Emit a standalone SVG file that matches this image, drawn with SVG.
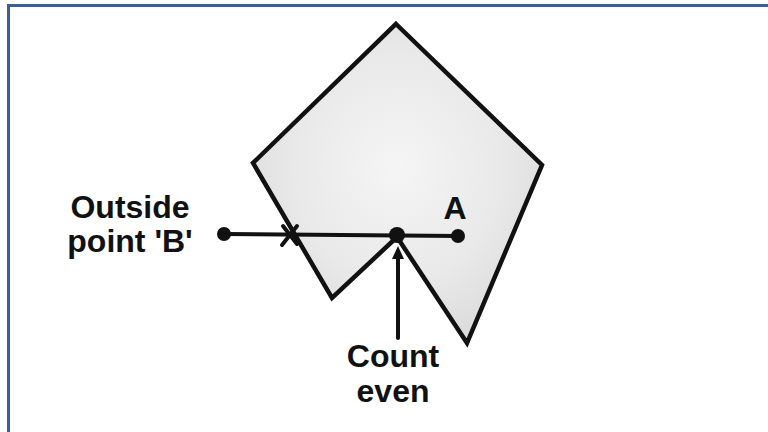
<svg xmlns="http://www.w3.org/2000/svg" width="768" height="432" viewBox="0 0 768 432">
  <defs>
    <radialGradient id="shade" cx="0.5" cy="0.45" r="0.6">
      <stop offset="0" stop-color="#f5f5f5"/>
      <stop offset="0.6" stop-color="#e9e9e9"/>
      <stop offset="1" stop-color="#dadada"/>
    </radialGradient>
  </defs>
  <style>
    .lbl { font-family: "Liberation Sans", Arial, sans-serif; font-weight: bold; font-size: 32px; fill: #111; }
    .edge { stroke: #111; stroke-width: 4; fill: none; stroke-linecap: round; }
    .dot { fill: #111; }
  </style>
  <rect x="0" y="0" width="768" height="432" fill="#ffffff"/>
  <rect x="8.5" y="5.5" width="780" height="450" fill="none" stroke="#3d5c99" stroke-width="3"/>

  <g id="polygon">
    <polygon points="396,24 542,165 467,343 397,237 332,298 253,163" fill="url(#shade)" stroke="#111" stroke-width="4.5" stroke-linejoin="miter"/>
  </g>

  <g id="connectors">
    <line class="edge" x1="224" y1="234" x2="458" y2="236"/>
    <path class="edge" d="M283,226 L297,244 M297,226 L282,245" stroke-width="3"/>
    <line class="edge" x1="398" y1="252" x2="398" y2="338"/>
    <polygon points="392,259 398,246 404,259" fill="#111"/>
  </g>

  <g id="pointB">
    <circle class="dot" cx="224" cy="234" r="7"/>
    <text class="lbl" x="130" y="218" text-anchor="middle">Outside</text>
    <text class="lbl" x="130" y="252" text-anchor="middle">point 'B'</text>
  </g>

  <g id="crossing">
    <circle class="dot" cx="397" cy="235" r="8"/>
  </g>

  <g id="pointA">
    <circle class="dot" cx="458" cy="236" r="7"/>
    <text class="lbl" x="455" y="219" text-anchor="middle">A</text>
  </g>

  <g id="countLabel">
    <text class="lbl" x="393" y="367" text-anchor="middle">Count</text>
    <text class="lbl" x="393" y="402" text-anchor="middle">even</text>
  </g>
</svg>
